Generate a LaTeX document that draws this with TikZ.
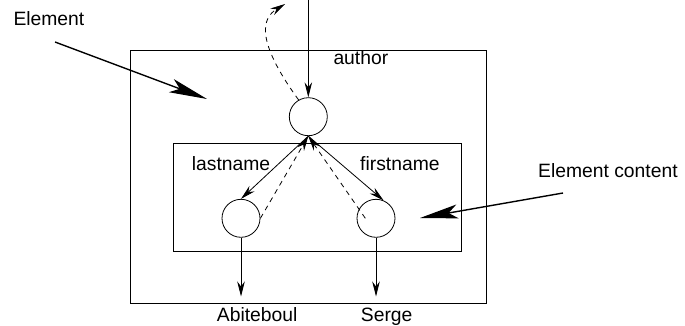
\documentclass[tikz,border=0pt]{standalone}
\usepackage{fontspec}
\setmainfont{Liberation Sans}
\usetikzlibrary{arrows.meta,calc}
\begin{document}
\begin{tikzpicture}[x=1pt,y=-1pt,
  lbl/.style={anchor=base west,inner sep=0pt,font=\fontsize{19.3}{23}\selectfont},
  circ/.style={circle,draw,line width=0.8pt,minimum size=38pt,inner sep=0pt},
  box/.style={draw,line width=0.8pt},
  edge/.style={line width=0.8pt,-{Stealth[length=15pt,width=7.5pt,inset=5pt]}},
  back/.style={edge,dash pattern=on 5pt off 4.5pt},
  pointer/.style={line width=1.4pt,-{Stealth[length=38pt,width=14pt,inset=9pt]}}]
\useasboundingbox (0,0) rectangle (685,326);

% element box and its content box
\draw[box] (130,50) rectangle (486,303);
\draw[box] (173,143) rectangle (461,251);

% tree nodes
\node[circ] (a) at (308.3,116.7) {};
\node[circ] (l) at (241,218.3) {};
\node[circ] (f) at (376,218.3) {};

% labels
\node[lbl] (tElem) at (13.3,25.7) {Element};
\node[lbl] (tCont) at (538,177.7) {Element content};
\node[lbl] (tAuthor) at (333.3,65) {author};
\node[lbl] (tLast) at (191.7,170) {lastname};
\node[lbl] (tFirst) at (360,170) {firstname};
\node[lbl] (tAbit) at (216.7,321.7) {Abiteboul};
\node[lbl] (tSerge) at (360.7,321.7) {Serge};

% free ends
\coordinate (in) at (308.3,0);
\coordinate (out) at (285,4);
\coordinate (vl) at (241,296.5);
\coordinate (vf) at (376,296.5);
\coordinate (pe0) at (55,42);
\coordinate (pe1) at (207,99);
\coordinate (pc0) at (563,193);
\coordinate (pc1) at (420,218);

% traversal
\draw[edge] (in) -- (a.north);
\draw[back] (a.120) .. controls (255,40) and (262,18) .. (out);
\draw[edge] (a.south) -- (l.north);
\draw[edge] (a.south) -- (f.67);
\draw[back] (l.east) -- (a.south);
\draw[back] ($(f)!0.55!(f.west)$) -- (a.south);
\draw[edge] (l.south) -- (vl);
\draw[edge] (f.south) -- (vf);

% pointers
\draw[pointer] (pe0) -- (pe1);
\draw[pointer] (pc0) -- (pc1);
\end{tikzpicture}
\end{document}
